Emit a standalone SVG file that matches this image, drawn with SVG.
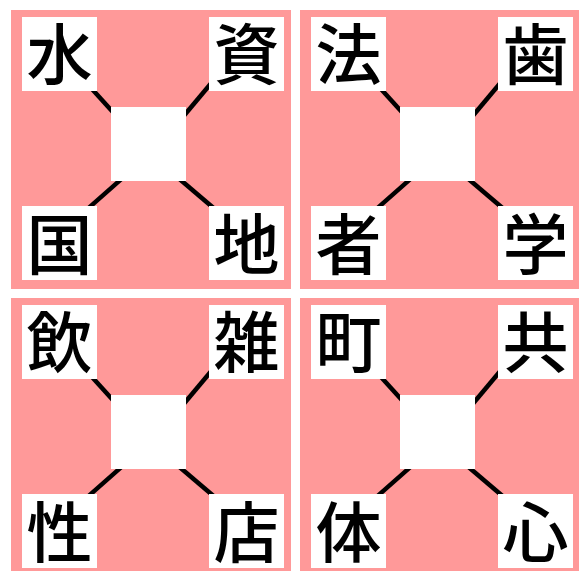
<svg xmlns="http://www.w3.org/2000/svg" width="579" height="571" viewBox="0 0 579 571">
<defs>
<style>
.panel{fill:#ff9999}
.box{fill:#ffffff}
.lbl{font-family:"Noto Sans CJK JP","Noto Sans CJK SC",sans-serif;font-size:66px;font-weight:500;fill:#000;text-anchor:middle}
.conn line{stroke:#000;stroke-width:4.5}
</style>
<g id="tpl-connectors" class="conn">
<line x1="76" y1="73.5" x2="105" y2="105.5"/>
<line x1="202" y1="71" x2="171" y2="108"/>
<line x1="76" y1="199.4" x2="112" y2="167.6"/>
<line x1="167" y1="167.7" x2="204" y2="199.3"/>
</g>
</defs>
<rect width="579" height="571" fill="#ffffff"/>

<g id="panel1" transform="translate(11,10)">
<rect class="panel" width="280" height="279"/>
<g id="connectors1"><use href="#tpl-connectors"/></g>
<g id="p1-center"><rect class="box" x="100" y="97" width="75" height="74"/></g>
<g id="p1-tl"><rect class="box" x="11" y="7" width="75" height="74"/><text class="lbl" x="48.5" y="69">水</text></g>
<g id="p1-tr"><rect class="box" x="198" y="7" width="75" height="74"/><text class="lbl" x="235.5" y="69">資</text></g>
<g id="p1-bl"><rect class="box" x="11" y="196" width="75" height="74"/><text class="lbl" x="48.5" y="259">国</text></g>
<g id="p1-br"><rect class="box" x="198" y="196" width="75" height="74"/><text class="lbl" x="235.5" y="259">地</text></g>
</g>

<g id="panel2" transform="translate(300,10)">
<rect class="panel" width="280" height="279"/>
<g id="connectors2"><use href="#tpl-connectors"/></g>
<g id="p2-center"><rect class="box" x="100" y="97" width="75" height="74"/></g>
<g id="p2-tl"><rect class="box" x="11" y="7" width="75" height="74"/><text class="lbl" x="48.5" y="69">法</text></g>
<g id="p2-tr"><rect class="box" x="198" y="7" width="75" height="74"/><text class="lbl" x="235.5" y="69">歯</text></g>
<g id="p2-bl"><rect class="box" x="11" y="196" width="75" height="74"/><text class="lbl" x="48.5" y="259">者</text></g>
<g id="p2-br"><rect class="box" x="198" y="196" width="75" height="74"/><text class="lbl" x="235.5" y="259">学</text></g>
</g>

<g id="panel3" transform="translate(11,298)">
<rect class="panel" width="280" height="279"/>
<g id="connectors3"><use href="#tpl-connectors"/></g>
<g id="p3-center"><rect class="box" x="100" y="97" width="75" height="74"/></g>
<g id="p3-tl"><rect class="box" x="11" y="7" width="75" height="74"/><text class="lbl" x="48.5" y="69">飲</text></g>
<g id="p3-tr"><rect class="box" x="198" y="7" width="75" height="74"/><text class="lbl" x="235.5" y="69">雑</text></g>
<g id="p3-bl"><rect class="box" x="11" y="196" width="75" height="74"/><text class="lbl" x="48.5" y="259">性</text></g>
<g id="p3-br"><rect class="box" x="198" y="196" width="75" height="74"/><text class="lbl" x="235.5" y="259">店</text></g>
</g>

<g id="panel4" transform="translate(300,298)">
<rect class="panel" width="280" height="279"/>
<g id="connectors4"><use href="#tpl-connectors"/></g>
<g id="p4-center"><rect class="box" x="100" y="97" width="75" height="74"/></g>
<g id="p4-tl"><rect class="box" x="11" y="7" width="75" height="74"/><text class="lbl" x="48.5" y="69">町</text></g>
<g id="p4-tr"><rect class="box" x="198" y="7" width="75" height="74"/><text class="lbl" x="235.5" y="69">共</text></g>
<g id="p4-bl"><rect class="box" x="11" y="196" width="75" height="74"/><text class="lbl" x="48.5" y="259">体</text></g>
<g id="p4-br"><rect class="box" x="198" y="196" width="75" height="74"/><text class="lbl" x="235.5" y="259">心</text></g>
</g>
</svg>
